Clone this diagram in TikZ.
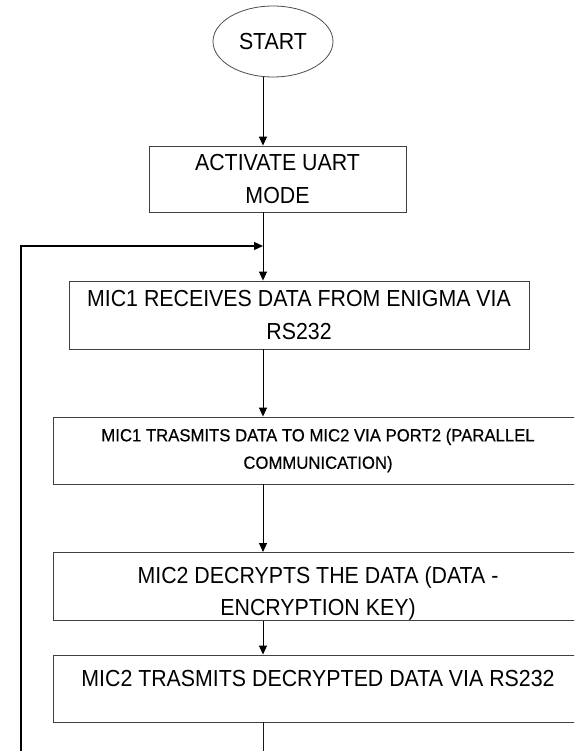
\documentclass[tikz,border=0pt]{standalone}
\usepackage{fontspec}
\setmainfont{Liberation Sans}
\newfontfamily\condfont[FakeStretch=0.92]{Liberation Sans}
\newfontfamily\condsmall[FakeStretch=0.95,FakeBold=0.4]{Liberation Sans}
\usetikzlibrary{shapes.geometric,arrows.meta}
\begin{document}
\begin{tikzpicture}[x=1pt,y=-1pt,
  boxst/.style={draw=black!75, line width=0.9pt, rectangle, inner sep=0pt, align=center, text=black},
  big/.style={font={\condfont\fontsize{23.2pt}{32.3pt}\selectfont}},
  small/.style={font={\condsmall\fontsize{17.6pt}{27.4pt}\selectfont}},
  arr/.style={-{Triangle[length=9pt,width=8pt]}, line width=1pt, draw=black},
  plain/.style={line width=1pt, draw=black!90}]
\useasboundingbox (0,0) rectangle (574,751);
\clip (0,0) rectangle (574,751);
\fill[white] (0,0) rectangle (574,751);
% nodes
\node[ellipse, draw=black!70, line width=0.8pt, minimum width=120pt, minimum height=71pt, inner sep=0pt, big, text=black] (start) at (273,41.5) {START};
\node[boxst, big, minimum width=257pt, minimum height=66pt] (b1) at (277.5,179) {ACTIVATE UART\\MODE};
\node[boxst, big, minimum width=460pt, minimum height=68pt] (b2) at (299,315) {MIC1 RECEIVES DATA FROM ENIGMA VIA\\RS232};
\node[boxst, small, minimum width=530pt, minimum height=67pt] (b3) at (318,450.5) {MIC1 TRASMITS DATA TO MIC2 VIA PORT2 (PARALLEL\\COMMUNICATION)};
\node[boxst, big, minimum width=530pt, minimum height=67pt] (b4) at (318,586.5) {\rule{0pt}{31pt}MIC2 DECRYPTS THE DATA (DATA -\\ENCRYPTION KEY)};
\node[boxst, big, minimum width=530pt, minimum height=67pt, text height=16.6pt, text depth=20.2pt] (b5) at (318,688.5) {MIC2 TRASMITS DECRYPTED DATA VIA RS232};
% helper coordinates
\coordinate (sp) at (263,0);
\coordinate (join) at (263,246);
\coordinate (lb) at (21,760);
\coordinate (thk) at (138,246);
\coordinate (thkend) at (256,246);
\coordinate (bot) at (263,760);
% connectors
\draw[arr] (start.south -| sp) -- (b1.north -| sp);
\draw[arr] (b1.south -| sp) -- (b2.north -| sp);
\draw[arr, line width=1.3pt] (lb) |- (join);
\draw[line width=2.3pt, draw=black] (thk) -- (thkend);
\draw[arr] (b2.south -| sp) -- (b3.north -| sp);
\draw[arr] (b3.south -| sp) -- (b4.north -| sp);
\draw[arr] (b4.south -| sp) -- (b5.north -| sp);
\draw[plain] (b5.south -| sp) -- (bot);
\end{tikzpicture}
\end{document}
